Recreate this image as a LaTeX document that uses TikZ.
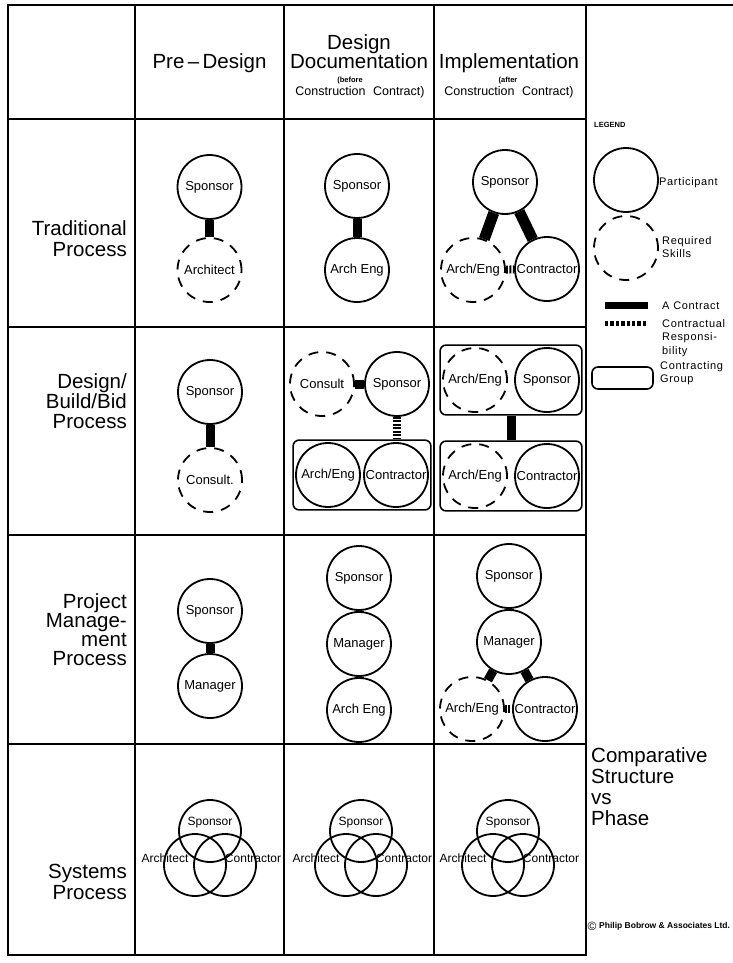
\documentclass[tikz,border=0pt]{standalone}
\usepackage{fontspec}
\setmainfont{Liberation Sans}
\usetikzlibrary{fit}
\newcommand\fsz[2]{\fontsize{#1}{#2}\selectfont}
\begin{document}
\begin{tikzpicture}[x=1pt,y=-1pt,
		grid/.style={line width=1.5pt,line cap=rect},
		part/.style={circle,draw,line width=1.8pt,minimum size=64pt,inner sep=0pt,font=\fsz{13}{14}},
		skill/.style={part,dash pattern=on 10pt off 8pt},
		venn/.style={circle,draw,line width=1.8pt,minimum size=62pt,inner sep=0pt},
		group/.style={draw,line width=1.6pt,rounded corners=6pt,inner sep=2pt},
		contract/.style={line width=9pt},
		respons/.style={line width=8pt,dash pattern=on 2pt off 1.5pt},
		head/.style={font=\fsz{20.5}{21},anchor=base},
		sub/.style={font=\fsz{12.5}{13},anchor=base},
		small/.style={font=\bfseries\fsz{7.5}{8},anchor=base},
		rowlab/.style={font=\fsz{20.5}{21},align=right,anchor=north east,inner sep=0pt},
		leg/.style={font=\fsz{11}{13.5}\addfontfeature{LetterSpace=6},align=left,anchor=north west,inner sep=0pt}]
	\useasboundingbox (0,0) rectangle (732,963);
	% table
	\foreach \x in {8,135,284,434,586} \draw[grid] (\x,5) -- (\x,955);
	\foreach \y in {119,327,535,744,955} \draw[grid] (8,\y) -- (586,\y);
	\draw[grid] (8,5) -- (732,5);
	% column heads
	\node[head] (pre) at (209.5,69) {Pre\,--\,Design};
	\node[head] (doc1) at (359,50) {Design};
	\node[head] (doc2) at (359,69) {Documentation};
	\node[small] (doc3) at (350,83) {(before};
	\node[sub] (doc4) at (360,96) {Construction\hspace{.6em}Contract)};
	\node[head] (imp1) at (509,69) {Implementation};
	\node[small] (imp2) at (508,83) {(after};
	\node[sub] (imp3) at (509,96) {Construction\hspace{.6em}Contract)};
	% row heads
	\node[rowlab] (trad) at (127,220) {Traditional\\Process};
	\node[rowlab,font=\fsz{20.5}{20}] (dbb) at (127,373) {Design/\\Build/Bid\\Process};
	\node[rowlab,font=\fsz{20.5}{19}] (pm) at (127,593) {Project\\Manage-\\ment\\Process};
	\node[rowlab] (sys) at (127,864) {Systems\\Process};
	% traditional
	\node[part] (tp-sp) at (209.5,187) {Sponsor};
	\node[skill] (tp-ar) at (209.5,270) {Architect};
	\draw[contract] (tp-sp) -- (tp-ar);
	\node[part] (td-sp) at (357,186) {Sponsor};
	\node[part] (td-ae) at (357,270) {Arch Eng};
	\draw[contract] (td-sp) -- (td-ae);
	\node[part] (ti-sp) at (505,182) {Sponsor};
	\node[skill] (ti-ae) at (473,270) {Arch/Eng};
	\node[part] (ti-co) at (547,269) {Contractor};
	\draw[contract,line width=11pt] (ti-sp) -- (ti-ae);
	\draw[contract,line width=11pt] (ti-sp) -- (ti-co);
	\draw[respons] (ti-ae) -- (ti-co);
	% design/build/bid
	\node[part] (bp-sp) at (210,392) {Sponsor};
	\node[skill] (bp-cs) at (210,480) {Consult.};
	\draw[contract] (bp-sp) -- (bp-cs);
	\node[skill] (bd-cs) at (322,384) {Consult};
	\node[part] (bd-sp) at (397,384) {Sponsor};
	\draw[contract] (bd-cs) -- (bd-sp);
	\node[part] (bd-ae) at (328,475) {Arch/Eng};
	\node[part] (bd-co) at (396,475) {Contractor};
	\node[group,fit=(bd-ae)(bd-co)] (bd-grp) {};
	\draw[respons] (bd-sp) -- (bd-sp |- bd-grp.north);
	\node[skill] (bi-ae) at (475,380) {Arch/Eng};
	\node[part] (bi-sp) at (547,380) {Sponsor};
	\node[group,fit=(bi-ae)(bi-sp)] (bi-up) {};
	\node[skill] (bi-ae2) at (475,476) {Arch/Eng};
	\node[part] (bi-co) at (547,476) {Contractor};
	\node[group,fit=(bi-ae2)(bi-co)] (bi-lo) {};
	\draw[contract] (bi-up) -- (bi-lo);
	% project management
	\node[part] (mp-sp) at (210,611) {Sponsor};
	\node[part] (mp-mg) at (210,686) {Manager};
	\draw[contract] (mp-sp) -- (mp-mg);
	\node[part] (md-sp) at (359,578) {Sponsor};
	\node[part] (md-mg) at (359,644) {Manager};
	\node[part] (md-ae) at (359,710) {Arch Eng};
	\draw[contract] (md-sp) -- (md-mg);
	\draw[contract] (md-mg) -- (md-ae);
	\node[part] (mi-sp) at (509,576) {Sponsor};
	\node[part] (mi-mg) at (509,642) {Manager};
	\node[skill] (mi-ae) at (472,709) {Arch/Eng};
	\node[part] (mi-co) at (545,709) {Contractor};
	\draw[contract] (mi-sp) -- (mi-mg);
	\draw[contract] (mi-mg) -- (mi-ae);
	\draw[contract] (mi-mg) -- (mi-co);
	\draw[respons] (mi-ae) -- (mi-co);
	% systems
	\def\venn(#1:#2){%
		\node[venn] (#1-sp) at (#2,831) {};
		\node[venn] (#1-ar) at (#2-15,865) {};
		\node[venn] (#1-co) at (#2+15,865) {};
		\node[font=\fsz{12}{13},inner sep=0pt] (#1-spt) at (#2,823) {Sponsor};
		\node[font=\fsz{12}{13},inner sep=0pt] (#1-art) at (#2-45,858) {Architect};
		\node[font=\fsz{12}{13},inner sep=0pt] (#1-cot) at (#2+43,858) {Contractor};
	}
	\venn(sp:210) \venn(sd:361) \venn(si:508)
	% legend
	\node[font=\bfseries\fsz{7.5}{8},anchor=west,inner sep=0pt] (lg) at (594,125) {LEGEND};
	\node[part] (lg-pa) at (626,180) {};
	\node[leg,anchor=west] (lg-pat) at (659,183) {Participant};
	\node[skill] (lg-sk) at (626,248) {};
	\node[leg] (lg-skt) at (662,236) {Required\\Skills};
	\coordinate (lg-c1) at (605,305);
	\coordinate (lg-c2) at (648,305);
	\draw[contract,line width=7pt] (lg-c1) -- (lg-c2);
	\node[leg,anchor=west] (lg-ct) at (662,306) {A\ Contract};
	\coordinate (lg-r1) at (605,323);
	\coordinate (lg-r2) at (648,323);
	\draw[respons,line width=5pt,dash pattern=on 3.4pt off 2pt] (lg-r1) -- (lg-r2);
	\node[leg] (lg-rt) at (662,319) {Contractual\\Responsi-\\bility};
	\node[group,minimum width=61pt,minimum height=22pt] (lg-gr) at (622.5,378) {};
	\node[leg] (lg-grt) at (660,361) {Contracting\\Group};
	% title
	\node[font=\fsz{20.5}{21},align=left,anchor=north west,inner sep=0pt] (cmp) at (591,747) {Comparative\\Structure\\vs\\Phase};
	\node[font=\fsz{12}{12},inner sep=0pt] (cp) at (592,926) {\textcopyright};
	\node[font=\bfseries\fsz{8.5}{9},anchor=west,inner sep=0pt] (cpt) at (599,926) {Philip Bobrow \& Associates Ltd.};
\end{tikzpicture}
\end{document}
